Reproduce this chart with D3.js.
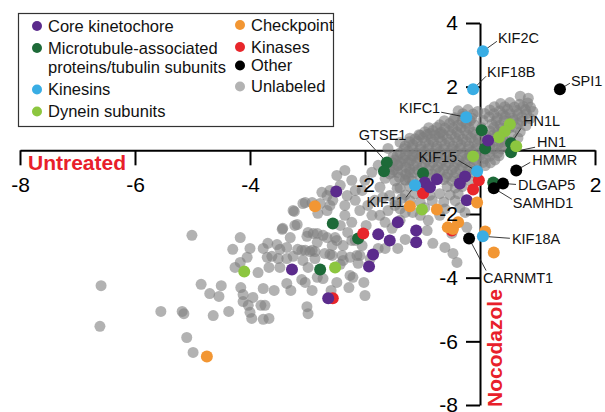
<!DOCTYPE html>
<html><head><meta charset="utf-8">
<script src="https://cdn.jsdelivr.net/npm/d3@7"></script>
<style>
html,body{margin:0;padding:0;background:#fff;}
svg{display:block;font-family:"Liberation Sans",Arial,Helvetica,sans-serif;}
</style></head><body>
<svg id="chart" width="605" height="412"></svg>
<script>
// ---------------- DATA ----------------
const categories = ["Core kinetochore", "Microtubule-associated proteins/tubulin subunits", "Kinesins", "Dynein subunits", "Checkpoint", "Kinases", "Other", "Unlabeled"];
const xTicks = [-8, -6, -4, -2, 2];
const xTickLabels = ["-8", "-6", "-4", "-2", "2"];
const yTicks = [4, 2, -2, -4, -6, -8];
const yTickLabels = ["4", "2", "-2", "-4", "-6", "-8"];
const xAxisTitle = "Untreated";
const yAxisTitle = "Nocodazole";

const coreKinetochore = [
  {x:0.14,y:0.31},{x:-0.26,y:-0.82},{x:-0.35,y:-1.04},{x:-0.96,y:-1.01},{x:-0.75,y:-0.91},
  {x:-0.87,y:-1.16},{x:-0.23,y:-1.57},{x:-1.43,y:-2.26},{x:-1.11,y:-2.52},{x:-1.11,y:-2.89},
  {x:-1.77,y:-2.64},{x:-1.57,y:-2.83},{x:-1.86,y:-3.27},{x:-1.93,y:-3.65},{x:-2.50,y:-1.29},
  {x:-3.27,y:-3.74},{x:-2.64,y:-4.65}
];
const microtubule = [
  {x:-1.62,y:-0.38,name:"GTSE1"},{x:-1.67,y:-0.66},{x:-0.99,y:-0.72},{x:0.03,y:0.63},
  {x:0.09,y:0.06},{x:0.54,y:0.22,name:"HN1L"},{x:0.54,y:-0.06,name:"HN1"},{x:0.23,y:-1.01},
  {x:-2.56,y:-2.30},{x:-2.12,y:-2.77},{x:-2.78,y:-3.74}
];
const kinesins = [
  {x:0.05,y:3.11,name:"KIF2C"},{x:-0.12,y:1.92,name:"KIF18B"},{x:-0.24,y:1.04,name:"KIFC1"},
  {x:-0.05,y:-0.66,name:"KIF15"},{x:-1.13,y:-1.10,name:"KIF11"},{x:0.05,y:-2.70,name:"KIF18A"}
];
const dynein = [
  {x:0.52,y:0.82},{x:0.43,y:0.60},{x:0.33,y:0.41},{x:0.63,y:0.13},{x:-0.12,y:-0.19},
  {x:-1.01,y:-1.86},{x:-2.52,y:-3.68},{x:-4.10,y:-3.81}
];
const checkpoint = [
  {x:-4.75,y:-6.48},{x:-2.87,y:-1.76},{x:-0.05,y:-1.64},{x:-1.22,y:-1.76},{x:-0.75,y:-1.86},
  {x:-0.56,y:-2.42},{x:-0.47,y:-2.47},{x:-0.38,y:-2.26},{x:0.09,y:-2.55},{x:0.24,y:-3.21}
];
const kinases = [
  {x:-0.02,y:-0.94},{x:-0.12,y:-1.23},{x:-0.99,y:-1.35},{x:-2.03,y:-2.61},{x:-2.56,y:-4.65},{x:-0.49,y:-2.52}
];
const other = [
  {x:1.39,y:1.92,name:"SPI1"},{x:0.63,y:-0.63,name:"HMMR"},{x:0.40,y:-1.04,name:"DLGAP5"},
  {x:0.24,y:-1.19,name:"SAMHD1"},{x:-0.19,y:-2.77,name:"CARNMT1"}
];
const unlabeled = [
  // sparse tail
  [-6.59,-4.25],[-6.61,-5.53],[-5.55,-5.06],[-5.18,-5.06],[-5.15,-5.13],[-5.10,-5.88],[-4.99,-6.35],[-5.01,-2.67],
  [-4.85,-4.21],[-4.70,-4.50],[-4.64,-5.19],[-4.50,-4.25],[-4.54,-4.59],[-4.37,-5.06],[-4.30,-3.11],[-4.17,-2.74],
  [-4.16,-4.31],[-4.12,-4.53],[-4.12,-4.75],[-4.03,-4.87],[-4.00,-5.09],[-3.97,-5.28],[-3.95,-4.62],[-4.00,-3.08],
  [-4.05,-3.36],[-4.17,-3.52],[-4.26,-3.68],[-3.86,-3.84],[-3.81,-4.87],[-3.74,-4.87],[-3.77,-4.34],[-3.77,-5.31],
  [-3.67,-5.28],[-3.58,-4.40],[-3.77,-3.08],[-3.69,-2.92],[-3.53,-2.96],[-3.48,-3.11],[-3.70,-3.36],[-3.62,-3.33],
  [-3.36,-3.40],[-3.25,-3.33],[-3.36,-4.18],[-3.29,-4.40],[-3.10,-3.14],[-2.96,-3.18],[-2.87,-3.18],[-3.30,-2.74],
  [-3.01,-2.70],[-2.83,-2.61],[-2.66,-2.74],[-2.49,-2.83],[-2.61,-3.27],[-2.40,-3.30],[-2.43,-3.58],[-2.26,-3.36],
  [-2.14,-3.30],[-2.12,-3.55],[-2.21,-3.99],[-2.28,-4.31],[-2.02,-4.15],[-2.00,-4.56],[-2.26,-3.93],[-3.10,-4.06],
  [-3.04,-4.15],[-3.01,-4.91],[-2.99,-5.13],[-2.92,-4.40],[-2.73,-4.03],[-2.83,-3.99],[-2.59,-4.40],[-3.67,-3.68],
  [-3.48,-3.68],[-2.99,-3.68],[-2.87,-3.40],[-2.70,-3.24],[-2.57,-3.30],[-3.08,-3.46],[-3.51,-3.40],[-3.44,-2.48],
  [-3.18,-2.33],[-3.23,-1.92],[-3.04,-1.64],[-2.82,-1.98],[-2.75,-1.32],[-2.99,-2.58],[-2.90,-2.61],[-3.36,-3.05],
  [-3.17,-3.11],[-3.04,-3.14],[-2.92,-3.14],[-2.83,-2.89],[-2.73,-2.67],[-2.57,-2.99],[-2.52,-2.74],[-3.08,-1.67],
  [-3.25,-1.89],[-3.43,-2.45],[-3.22,-2.36],[-2.61,-1.73],[-2.66,-1.89],[-2.56,-1.57],[-2.92,-1.64],[-2.78,-1.67],
  [-2.66,-1.42],
  // middle
  [-2.49,-0.79],[-2.35,-0.63],[-2.23,-0.94],[-2.43,-1.10],[-2.31,-1.42],[-2.17,-1.57],[-2.05,-1.26],[-2.00,-0.94],
  [-1.88,-0.69],[-1.77,-0.47],[-1.65,-0.88],[-1.53,-0.69],[-1.43,-0.47],[-1.30,-0.31],[-1.18,-0.16],[-2.09,-1.89],
  [-1.95,-1.73],[-1.83,-1.57],[-1.74,-1.16],[-1.69,-1.48],[-1.57,-1.42],[-1.44,-1.19],[-1.30,-0.94],[-1.22,-0.69],
  [-2.35,-2.04],[-2.23,-2.26],[-2.43,-2.36],[-2.30,-2.58],[-2.17,-2.83],[-2.05,-2.99],[-2.38,-2.99],[-1.98,-2.36],
  [-1.88,-2.04],[-1.74,-2.04],[-1.60,-1.89],[-1.48,-1.73],[-1.36,-1.51],[-1.30,-1.95],[-1.17,-1.95],[-1.39,-2.20],
  [-1.65,-2.26],[-1.53,-2.45],[-1.77,-3.08],[-1.65,-3.08],[-1.43,-3.08],[-1.30,-2.80],[-0.92,-2.52],[-0.82,-2.92],
  [-0.61,-3.05],[-0.47,-3.24],[-0.40,-3.52],[-0.49,-2.61],[-0.23,-2.42],[-2.38,-3.46],[-2.49,-4.15],[-2.09,-3.30],
  [-2.23,-2.83],[-1.91,-3.40],[-1.04,-2.04],[-0.90,-2.20],[-0.70,-2.04],[-1.39,0.25],[-1.22,0.38],[-1.04,0.47],
  [-0.87,0.53],[-0.70,0.53],[-1.60,0.06],[-1.51,-0.19],[-2.61,-1.26],[-2.35,-1.73],[-2.17,-1.26],[-0.26,-1.95],
  // dense core
  [0.70,1.70],[0.84,1.64],
  [0.36,1.47],[0.52,1.50],[0.69,1.45],[0.83,1.49],
  [-0.38,1.24],[-0.21,1.28],[-0.04,1.22],[0.17,1.27],[0.34,1.24],[0.48,1.29],[0.64,1.25],[0.79,1.28],[0.92,1.22],
  [-0.44,1.02],[-0.30,1.06],[-0.14,1.01],[0.16,1.05],[0.30,1.02],[0.44,1.06],[0.57,1.01],[0.73,1.05],[0.87,1.00],
  [-0.70,0.80],[-0.53,0.84],[-0.38,0.79],[-0.24,0.84],[-0.10,0.80],[0.21,0.83],[0.35,0.79],[0.66,0.84],[0.80,0.78],
  [-0.96,0.58],[-0.82,0.62],[-0.68,0.57],[-0.54,0.62],[-0.40,0.58],[-0.26,0.62],[-0.12,0.57],[0.17,0.61],[0.31,0.58],[0.45,0.63],[0.70,0.58],
  [-1.13,0.36],[-0.99,0.40],[-0.85,0.35],[-0.71,0.40],[-0.57,0.36],[-0.43,0.40],[-0.30,0.35],[-0.16,0.39],[-0.03,0.36],[0.26,0.40],[0.40,0.35],[0.66,0.39],
  [-1.30,0.14],[-1.17,0.18],[-1.03,0.13],[-0.89,0.18],[-0.75,0.14],[-0.61,0.18],[-0.47,0.13],[-0.33,0.17],[-0.19,0.14],[-0.05,0.18],[0.17,0.14],[0.31,0.18],[0.43,0.13],
  [-1.39,-0.08],[-1.25,-0.03],[-1.11,-0.08],[-0.97,-0.04],[-0.83,-0.09],[-0.70,-0.04],[-0.56,-0.08],[-0.42,-0.03],[-0.28,-0.08],[-0.14,-0.04],[0.00,-0.09],[0.17,-0.04],[0.31,-0.08],
  [-1.48,-0.30],[-1.34,-0.26],[-1.20,-0.31],[-1.06,-0.26],[-0.92,-0.30],[-0.78,-0.25],[-0.64,-0.30],[-0.50,-0.26],[-0.37,-0.31],[-0.23,-0.26],[-0.09,-0.30],[0.09,-0.26],[0.26,-0.30],
  [-1.57,-0.52],[-1.43,-0.48],[-1.29,-0.53],[-1.15,-0.48],[-1.01,-0.52],[-0.87,-0.47],[-0.73,-0.52],[-0.59,-0.48],[-0.45,-0.53],[-0.31,-0.48],[-0.17,-0.52],[0.09,-0.48],
  [-1.57,-0.74],[-1.43,-0.70],[-1.29,-0.75],[-1.15,-0.70],[-0.83,-0.74],[-0.70,-0.69],[-0.56,-0.74],[-0.42,-0.70],[-0.24,-0.74],[-0.12,-0.70],
  [-1.48,-0.96],[-1.30,-0.92],[-1.17,-0.97],[-0.63,-0.92],[-0.49,-0.96],[-0.35,-0.92],[-0.17,-0.96],
  [-1.39,-1.18],[-1.22,-1.14],[-1.04,-1.19],[-0.57,-1.14],[-0.43,-1.18],[-0.31,-1.14],
  [-1.30,-1.40],[-1.13,-1.36],[-0.87,-1.41],[-0.70,-1.36],[-0.52,-1.40],[-0.38,-1.36],
  [-1.48,-1.62],[-1.22,-1.58],[-1.04,-1.63],[-0.83,-1.58],[-0.63,-1.62],[-0.43,-1.58],
  [-1.39,-1.84],[-0.96,-1.80],[-0.61,-1.84],[-0.35,-1.80],
  // dense core, in-between rows
  [0.25,1.37],[0.43,1.37],[0.60,1.36],[0.75,1.38],[0.88,1.35],
  [-0.30,1.15],[-0.12,1.14],[0.08,1.16],[0.24,1.15],[0.40,1.13],[0.52,1.16],[0.66,1.14],[0.81,1.15],
  [-0.62,0.93],[-0.46,0.94],[-0.31,0.92],[-0.17,0.93],[0.05,0.94],[0.28,0.92],[0.42,0.93],[0.58,0.94],[0.73,0.92],
  [-0.89,0.71],[-0.75,0.72],[-0.61,0.70],[-0.47,0.71],[-0.33,0.72],[-0.19,0.70],[0.03,0.71],[0.24,0.72],[0.38,0.70],[0.52,0.71],[0.62,0.72],
  [-1.06,0.49],[-0.92,0.50],[-0.78,0.48],[-0.64,0.49],[-0.50,0.50],[-0.36,0.48],[-0.22,0.49],[-0.08,0.50],[0.10,0.48],[0.24,0.49],[0.38,0.50],[0.55,0.48],
  [-1.23,0.27],[-1.09,0.28],[-0.95,0.26],[-0.81,0.27],[-0.67,0.28],[-0.53,0.26],[-0.39,0.27],[-0.24,0.28],[-0.10,0.26],[0.10,0.27],[0.24,0.28],[0.37,0.26],[0.52,0.27],
  [-1.32,0.05],[-1.18,0.06],[-1.04,0.04],[-0.90,0.05],[-0.76,0.06],[-0.63,0.04],[-0.49,0.05],[-0.35,0.06],[-0.21,0.04],[-0.07,0.05],[0.10,0.06],[0.24,0.04],[0.37,0.05],
  [-1.44,-0.17],[-1.30,-0.16],[-1.16,-0.18],[-1.02,-0.17],[-0.88,-0.16],[-0.74,-0.18],[-0.60,-0.17],[-0.46,-0.16],[-0.32,-0.18],[-0.18,-0.17],[0.00,-0.16],[0.17,-0.18],[0.33,-0.17],
  [-1.52,-0.39],[-1.38,-0.40],[-1.24,-0.38],[-1.10,-0.39],[-0.96,-0.40],[-0.82,-0.38],[-0.68,-0.39],[-0.54,-0.40],[-0.40,-0.38],[-0.26,-0.39],[-0.10,-0.40],[0.05,-0.38],[0.18,-0.39],
  [-1.50,-0.61],[-1.36,-0.62],[-1.22,-0.60],[-1.08,-0.61],[-0.90,-0.62],[-0.77,-0.60],[-0.63,-0.61],[-0.49,-0.62],[-0.35,-0.60],[-0.20,-0.61],[-0.05,-0.62],
  [-1.40,-0.85],[-1.24,-0.86],[-1.05,-0.84],[-0.90,-0.85],[-0.76,-0.86],[-0.59,-0.84],[-0.45,-0.85],[-0.30,-0.86]
];

// ---------------- STYLE / LAYOUT ----------------
const colors = {
  "Core kinetochore": "#5b2b8c",
  "Microtubule-associated proteins/tubulin subunits": "#1d6a38",
  "Kinesins": "#39ade4",
  "Dynein subunits": "#8cc63f",
  "Checkpoint": "#f29633",
  "Kinases": "#e8262b",
  "Other": "#000000",
  "Unlabeled": "#b3b3b3"
};
const seriesByCat = {
  "Core kinetochore": coreKinetochore,
  "Microtubule-associated proteins/tubulin subunits": microtubule,
  "Kinesins": kinesins,
  "Dynein subunits": dynein,
  "Checkpoint": checkpoint,
  "Kinases": kinases,
  "Other": other
};
const drawOrder = ["Microtubule-associated proteins/tubulin subunits", "Dynein subunits", "Kinases", "Core kinetochore", "Checkpoint", "Kinesins", "Other"];

const labelLayout = {
  KIF2C:{lx:14,ly:-10,tx:15,ty:-13,a:"start"},
  KIF18B:{lx:13,ly:-13,tx:14,ty:-17,a:"start"},
  SPI1:{lx:10,ly:-6,tx:11,ty:-8,a:"start"},
  KIFC1:{lx:-25,ly:-5,tx:-26,ty:-9,a:"end"},
  GTSE1:{lx:-20,ly:-22,tx:-28,ty:-28,a:"start"},
  HN1L:{lx:10,ly:-15,tx:12,ty:-22,a:"start"},
  HN1:{lx:24,ly:-5,tx:26,ty:-10,a:"start"},
  HMMR:{lx:14,ly:-8,tx:16,ty:-10,a:"start"},
  DLGAP5:{lx:13,ly:1,tx:15,ty:1,a:"start"},
  SAMHD1:{lx:18,ly:11,tx:19,ty:15,a:"start"},
  KIF15:{lx:-19,ly:-11,tx:-20,ty:-14,a:"end"},
  KIF11:{lx:-9,ly:12,tx:-11,ty:17,a:"end"},
  KIF18A:{lx:27,ly:2,tx:29,ty:3,a:"start"},
  CARNMT1:{lx:17,ly:32,tx:14,ty:39,a:"start"}
};

// ---------------- DRAW ----------------
const svg = d3.select("#chart");
const x = d3.scaleLinear().domain([-8, 2]).range([20, 595]);
const y = d3.scaleLinear().domain([-8, 4]).range([405, 23]);

const xAxis = d3.axisBottom(x).tickValues(xTicks).tickFormat((d, i) => xTickLabels[i])
  .tickSizeInner(15).tickSizeOuter(0).tickPadding(12);
const yAxis = d3.axisLeft(y).tickValues(yTicks).tickFormat((d, i) => yTickLabels[i])
  .tickSizeInner(14).tickSizeOuter(0).tickPadding(8);

function styleAxis(g, showLines, showText) {
  g.selectAll("path,line").attr("stroke", "#000").attr("stroke-width", 2)
    .attr("visibility", showLines ? "visible" : "hidden");
  g.selectAll("text").attr("font-size", 21).attr("fill", "#000")
    .attr("font-family", '"Liberation Sans",Arial,sans-serif')
    .attr("visibility", showText ? "visible" : "hidden");
}

// axis lines (below points)
const gx1 = svg.append("g").attr("transform", `translate(0,${y(0)})`).call(xAxis);
styleAxis(gx1, true, false);
const gy1 = svg.append("g").attr("transform", `translate(${x(0)},0)`).call(yAxis);
styleAxis(gy1, true, false);

// unlabeled points
svg.append("g").selectAll("circle").data(unlabeled).join("circle")
  .attr("cx", d => x(d[0])).attr("cy", d => y(d[1])).attr("r", 5.5)
  .attr("fill", "#7e7e7e").attr("fill-opacity", 0.6);

// leader lines
const named = [];
drawOrder.forEach(c => seriesByCat[c].forEach(p => { if (p.name) named.push(p); }));
svg.append("g").selectAll("line").data(named).join("line")
  .attr("x1", d => x(d.x)).attr("y1", d => y(d.y))
  .attr("x2", d => x(d.x) + labelLayout[d.name].lx)
  .attr("y2", d => y(d.y) + labelLayout[d.name].ly)
  .attr("stroke", "#222").attr("stroke-width", 0.9);

// colored points
drawOrder.forEach(c => {
  svg.append("g").selectAll("circle").data(seriesByCat[c]).join("circle")
    .attr("cx", d => x(d.x)).attr("cy", d => y(d.y)).attr("r", 6)
    .attr("fill", colors[c]);
});

// tick labels (on top)
const gx2 = svg.append("g").attr("transform", `translate(0,${y(0)})`).call(xAxis);
styleAxis(gx2, false, true);
const gy2 = svg.append("g").attr("transform", `translate(${x(0)},0)`).call(yAxis);
styleAxis(gy2, false, true);

// gene labels
svg.append("g").selectAll("text").data(named).join("text")
  .attr("x", d => x(d.x) + labelLayout[d.name].tx)
  .attr("y", d => y(d.y) + labelLayout[d.name].ty)
  .attr("dy", "0.35em")
  .attr("text-anchor", d => labelLayout[d.name].a)
  .attr("font-size", 14.5).attr("fill", "#111")
  .text(d => d.name);

// axis titles
svg.append("text").attr("x", 28).attr("y", 170)
  .attr("font-size", 21).attr("font-weight", "bold").attr("fill", "#e8202a")
  .text(xAxisTitle);
svg.append("text").attr("transform", "translate(502,407) rotate(-90)")
  .attr("font-size", 21).attr("font-weight", "bold").attr("fill", "#e8202a")
  .text(yAxisTitle);

// legend
const lg = svg.append("g");
lg.append("rect").attr("x", 18.5).attr("y", 13.5).attr("width", 315).attr("height", 113)
  .attr("fill", "#fff").attr("stroke", "#333").attr("stroke-width", 1.2);
const legendItems = [
  {cat: categories[0], lines: ["Core kinetochore"], cx: 37, cy: 26},
  {cat: categories[1], lines: ["Microtubule-associated", "proteins/tubulin subunits"], cx: 37, cy: 48},
  {cat: categories[2], lines: ["Kinesins"], cx: 37, cy: 89.5},
  {cat: categories[3], lines: ["Dynein subunits"], cx: 37, cy: 111.5},
  {cat: categories[4], lines: ["Checkpoint"], cx: 240, cy: 25},
  {cat: categories[5], lines: ["Kinases"], cx: 240, cy: 47},
  {cat: categories[6], lines: ["Other"], cx: 240, cy: 65.5},
  {cat: categories[7], lines: ["Unlabeled"], cx: 240, cy: 86.5}
];
legendItems.forEach(it => {
  lg.append("circle").attr("cx", it.cx).attr("cy", it.cy).attr("r", 5)
    .attr("fill", colors[it.cat]);
  it.lines.forEach((t, i) => {
    lg.append("text").attr("x", it.cx + 11).attr("y", it.cy + i * 19.5).attr("dy", "0.35em")
      .attr("font-size", 16.5).attr("fill", "#111").text(t);
  });
});
</script>
</body></html>
